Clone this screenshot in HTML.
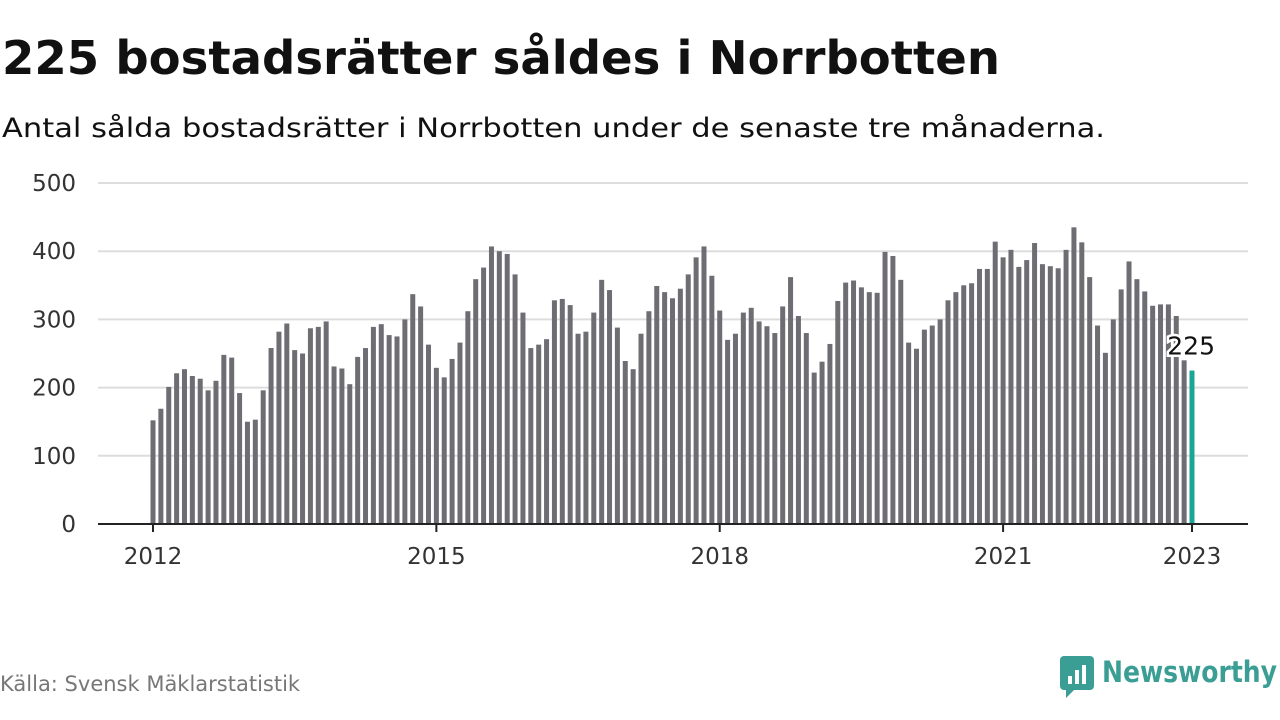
<!DOCTYPE html>
<html><head><meta charset="utf-8"><style>
body{margin:0;background:#fff;width:1280px;height:720px;overflow:hidden;font-family:"DejaVu Sans","Liberation Sans",sans-serif}
svg{display:block}
</style></head><body>
<svg width="1280" height="720" xmlns="http://www.w3.org/2000/svg">
<text x="2" y="74" font-size="46" font-weight="bold" fill="#111" textLength="998" lengthAdjust="spacingAndGlyphs">225 bostadsrätter såldes i Norrbotten</text>
<text x="2" y="137" font-size="27" fill="#111" textLength="1103" lengthAdjust="spacingAndGlyphs">Antal sålda bostadsrätter i Norrbotten under de senaste tre månaderna.</text>
<g id="grid"></g><g id="bars"></g><g id="axis"></g>
<text x="0" y="691" font-size="21" fill="#777">Källa: Svensk Mäklarstatistik</text>
<g>
<rect x="1060" y="656" width="34" height="34" rx="4" fill="#3a9e94"/>
<rect x="1068" y="676" width="4" height="8" fill="#fff"/><rect x="1075" y="670" width="4" height="14" fill="#fff"/><rect x="1082" y="665" width="4" height="19" fill="#fff"/>
<path d="M1066 690 L1066 698 L1074 690 Z" fill="#3a9e94"/>
<text x="1102" y="682" font-size="29" font-weight="bold" fill="#3a9e94" textLength="175" lengthAdjust="spacingAndGlyphs">Newsworthy</text>
</g>
</svg>
<script>
const values=[152,169,201,221,227,217,213,196,210,248,244,192,
150,153,196,258,282,294,255,250,287,289,297,231,
228,205,245,258,289,293,277,275,300,337,319,263,
229,215,242,266,312,359,376,407,400,396,366,310,
258,263,271,328,330,321,279,282,310,358,343,288,
239,227,279,312,349,340,331,345,366,391,407,364,
313,270,279,310,317,297,290,280,319,362,305,280,
222,238,264,327,354,357,347,340,339,399,393,358,
266,257,285,291,300,328,340,350,353,374,374,414,
391,402,377,387,412,381,378,375,402,435,413,362,
291,251,300,344,385,359,341,320,322,322,305,240,
225];
const yTicks=[0,100,200,300,400,500];
const xTickLabels=["2012","2015","2018","2021","2023"];
const xTickIndex=[0,36,72,108,132];
const NS="http://www.w3.org/2000/svg";
const y=v=>524-v*0.682;
const x=i=>153+i*(1039/132);
function mk(t,a,p){const e=document.createElementNS(NS,t);for(const k in a)e.setAttribute(k,a[k]);p.appendChild(e);return e;}
const grid=document.getElementById('grid'),bars=document.getElementById('bars'),axis=document.getElementById('axis');
yTicks.forEach(v=>{
 if(v>0){const l=mk('line',{x1:98,x2:1248,y1:y(v),y2:y(v),stroke:'#ddd','stroke-width':2},grid);
 
 }
 const t=mk('text',{x:76,y:y(v)+8,'font-size':23,fill:'#333','text-anchor':'end'},axis);t.textContent=v;
 
 
});
values.forEach((v,i)=>{
 const last=i===values.length-1;
 const r=mk('rect',{x:x(i)-2.5,y:y(v),width:5,height:524-y(v),fill:last?'#1aa595':'#6e6d73'},bars);
 
 
});
const base=mk('line',{x1:98,x2:1248,y1:524,y2:524,stroke:'#222','stroke-width':2},axis);


xTickLabels.forEach((s,k)=>{
 const i=xTickIndex[k];
 mk('line',{x1:x(i),x2:x(i),y1:524,y2:532,stroke:'#222','stroke-width':2},axis);
 const t=mk('text',{x:x(i),y:564,'font-size':23,fill:'#333','text-anchor':'middle'},axis);t.textContent=s;
 
 
});
const lv=values[values.length-1];
const lab=mk('text',{x:x(values.length-1)+23,y:y(lv)-16,'font-size':25,fill:'#111','text-anchor':'end',stroke:'#fff','stroke-width':5,'paint-order':'stroke'},axis);
lab.textContent=lv;


</script>
</body></html>
